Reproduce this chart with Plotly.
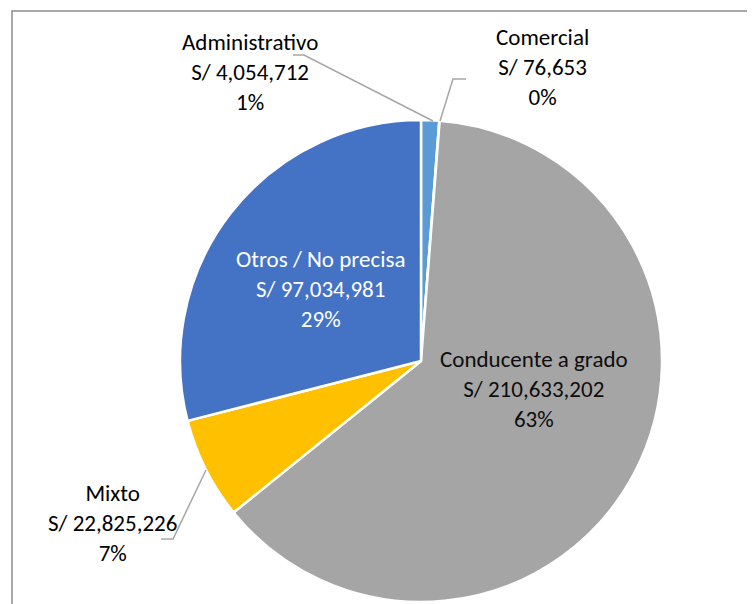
import plotly.graph_objects as go

categories = ["Administrativo", "Comercial", "Conducente a grado", "Mixto", "Otros / No precisa"]
values = [4054712, 76653, 210633202, 22825226, 97034981]
colors = ["#5B9BD5", "#ED7D31", "#A5A5A5", "#FFC000", "#4472C4"]

# page body has an 8px margin; map screen pixels to figure paper coords
OFF = 8
W, H = 755 - OFF, 604 - OFF
def px(x):
    return (x - OFF) / W
def py(y):
    return 1 - (y - OFF) / H

cx, cy, r = 421, 361, 241

fig = go.Figure(go.Pie(
    labels=categories,
    values=values,
    sort=False,
    direction="clockwise",
    rotation=0,
    marker=dict(colors=colors, line=dict(color="white", width=2.5)),
    textinfo="none",
    hoverinfo="label+value+percent",
    showlegend=False,
    domain=dict(x=[px(cx - r), px(cx + r)], y=[max(0, py(cy + r)), py(cy - r)]),
))

total = sum(values)
def label_text(i):
    pct = round(values[i] / total * 100)
    return f"{categories[i]}<br>S/ {values[i]:,}<br>{pct}%"

# label centre positions (pixels) and text colours
label_pos = [(250, 72), (542, 67), (534, 389), (112, 523), (320, 289)]
label_col = ["#000000", "#000000", "#0D0D0D", "#000000", "#FFFFFF"]

font_family = "Calibri, Carlito, Lato, sans-serif"
annotations = []
for i, (x, y) in enumerate(label_pos):
    annotations.append(dict(
        x=px(x), y=py(y), xref="paper", yref="paper",
        text=label_text(i), showarrow=False,
        xanchor="center", yanchor="middle", align="center",
        font=dict(family=font_family, size=23, color=label_col[i]),
    ))

line_style = dict(color="#A6A6A6", width=1.5)
leaders = [
    [(293, 55), (304, 55), (433, 121)],
    [(466, 79), (453, 79), (440, 121)],
    [(161, 539), (173, 539), (206, 470)],
]
shapes = []
for pts in leaders:
    path = "M " + " L ".join(f"{px(x)},{py(y)}" for x, y in pts)
    shapes.append(dict(type="path", xref="paper", yref="paper", path=path, line=line_style))

# chart frame
shapes.append(dict(type="rect", xref="paper", yref="paper",
                   x0=px(12), y0=py(640), x1=px(790), y1=py(11),
                   line=dict(color="#8C8C8C", width=1.5)))

fig.update_layout(
    width=W, height=H,
    margin=dict(l=0, r=0, t=0, b=0),
    paper_bgcolor="white", plot_bgcolor="white",
    annotations=annotations, shapes=shapes,
)

fig.write_html("out.html")
